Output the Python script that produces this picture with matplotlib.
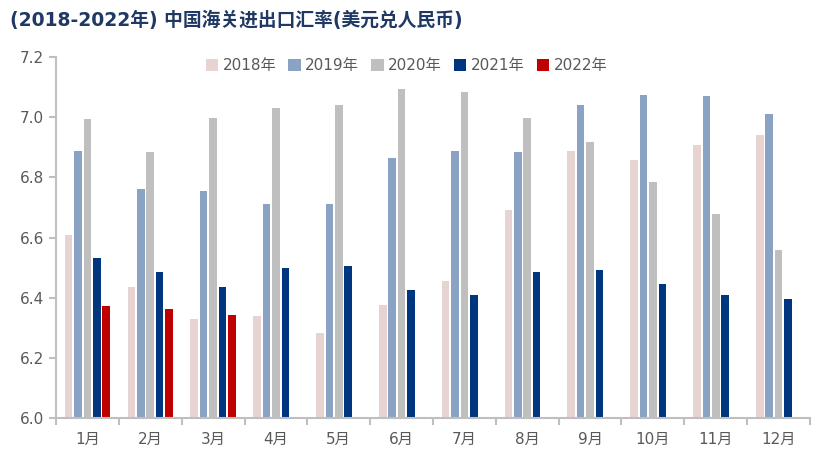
import matplotlib
matplotlib.use("Agg")
import matplotlib.pyplot as plt
from matplotlib import font_manager as fm
import numpy as np

# pick whichever CJK font the system actually has
cjk = [f for f in fm.findSystemFonts() if "CJK" in f or "cjk" in f]
for f in cjk:
    fm.fontManager.addfont(f)
names = sorted({fm.FontProperties(fname=f).get_name() for f in cjk})
sc = [n for n in names if "SC" in n] or names
plt.rcParams["font.family"] = ["DejaVu Sans"] + sc[:1]
plt.rcParams["axes.unicode_minus"] = False

months = ["1月", "2月", "3月", "4月", "5月", "6月", "7月", "8月", "9月", "10月", "11月", "12月"]
years = ["2018年", "2019年", "2020年", "2021年", "2022年"]
rate_2018 = [6.607, 6.434, 6.328, 6.338, 6.281, 6.374, 6.457, 6.690, 6.886, 6.856, 6.909, 6.942]
rate_2019 = [6.886, 6.760, 6.756, 6.710, 6.710, 6.863, 6.889, 6.883, 7.042, 7.075, 7.072, 7.012]
rate_2020 = [6.994, 6.883, 6.998, 7.032, 7.039, 7.095, 7.085, 6.996, 6.916, 6.783, 6.677, 6.557]
rate_2021 = [6.533, 6.484, 6.437, 6.497, 6.504, 6.424, 6.408, 6.484, 6.491, 6.447, 6.408, 6.394]
rate_2022 = [6.371, 6.361, 6.344]
series = [rate_2018, rate_2019, rate_2020, rate_2021, rate_2022]
colors = ["#e8d3d3", "#8aa2c4", "#bfbfbf", "#003580", "#c00000"]

fig = plt.figure(figsize=(8.16, 4.61), dpi=100)
ax = fig.add_axes([56 / 816, (461 - 418) / 461, (810 - 56) / 816, (418 - 57) / 461])

x = np.arange(len(months))
step, width = 0.15, 0.12
for i, (vals, c, lab) in enumerate(zip(series, colors, years)):
    ax.bar(x[:len(vals)] + (i - 2) * step, np.array(vals) - 6.0, bottom=6.0,
           width=width, color=c, label=lab)

ax.set_xlim(-0.5, len(months) - 0.5)
ax.set_ylim(6.0, 7.2)
ax.set_yticks(np.arange(6.0, 7.21, 0.2))
ax.set_yticklabels([f"{v:.1f}" for v in np.arange(6.0, 7.21, 0.2)])
ax.set_xticks(np.arange(-0.5, len(months), 1.0))
ax.set_xticklabels([])
ax.set_xticks(x, minor=True)
ax.set_xticklabels(months, minor=True)
ax.tick_params(axis="x", which="major", length=5, width=1.5, color="#bfbfbf")
ax.tick_params(axis="x", which="minor", length=0, pad=10, labelsize=11, labelcolor="#595959")
ax.tick_params(axis="y", length=5, width=1.5, color="#bfbfbf", labelsize=11, labelcolor="#595959")
for s in ["top", "right"]:
    ax.spines[s].set_visible(False)
for s in ["left", "bottom"]:
    ax.spines[s].set_color("#bfbfbf")
    ax.spines[s].set_linewidth(1.5)

leg = ax.legend(loc="upper center", bbox_to_anchor=(0.465, 1.035), ncol=5, frameon=False,
                handlelength=0.8, handleheight=0.8, handletextpad=0.3, columnspacing=0.8,
                fontsize=11)
for t in leg.get_texts():
    t.set_color("#595959")

fig.text(0.012, 0.955, "(2018-2022年) 中国海关进出口汇率(美元兑人民币)", fontsize=13.5,
         fontweight="bold", color="#1f3864", va="center")

fig.savefig("out.png", dpi=100)
